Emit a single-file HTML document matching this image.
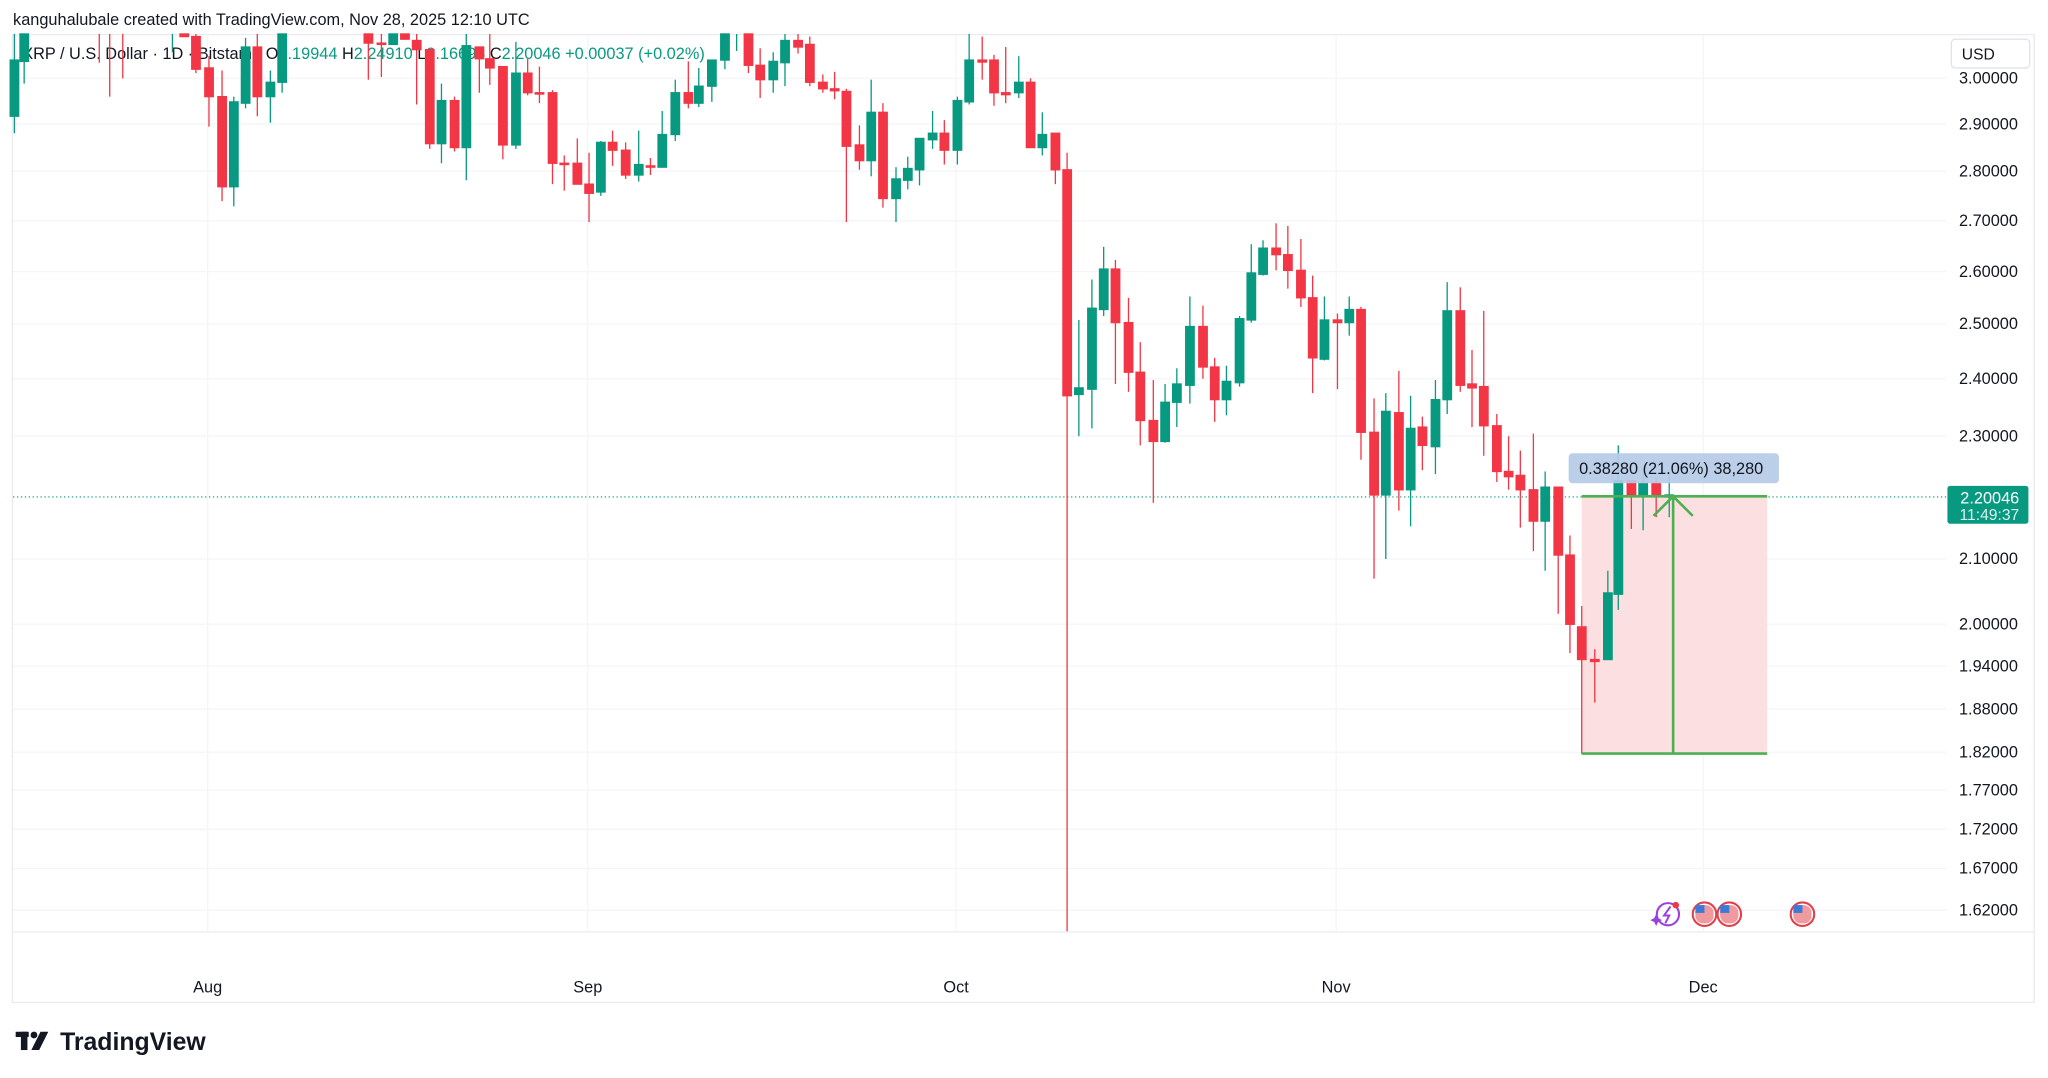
<!DOCTYPE html>
<html><head><meta charset="utf-8"><style>
html,body{margin:0;padding:0;background:#fff;}
svg{display:block;font-family:"Liberation Sans",sans-serif;}
.r{fill:#f23645;stroke:#f23645;}
.g{fill:#089981;stroke:#089981;}
.ax{font-size:12.5px;fill:#131722;}
</style></head><body>
<svg width="2048" height="1078" viewBox="0 0 1568 825.4" preserveAspectRatio="none" xmlns="http://www.w3.org/2000/svg">
<rect width="1568" height="825.4" fill="#fff"/>
<text x="10" y="19" font-size="12.5" fill="#131722">kanguhalubale created with TradingView.com, Nov 28, 2025 12:10 UTC</text>
<!-- pane borders -->
<g stroke="#e9ebef" stroke-width="1" fill="none">
<line x1="9" y1="26.5" x2="1558" y2="26.5"/>
<line x1="9.5" y1="26" x2="9.5" y2="768"/>
<line x1="1557.5" y1="26" x2="1557.5" y2="768"/>
<line x1="9" y1="713.5" x2="1558" y2="713.5"/>
<line x1="9" y1="767.5" x2="1558" y2="767.5"/>
</g>
<!-- grid -->
<g stroke="#f4f5f7" stroke-width="1">
<line x1="10" y1="60" x2="1490" y2="60"/><line x1="10" y1="95" x2="1490" y2="95"/><line x1="10" y1="131" x2="1490" y2="131"/><line x1="10" y1="169" x2="1490" y2="169"/><line x1="10" y1="208" x2="1490" y2="208"/><line x1="10" y1="248" x2="1490" y2="248"/><line x1="10" y1="290" x2="1490" y2="290"/><line x1="10" y1="334" x2="1490" y2="334"/><line x1="10" y1="428" x2="1490" y2="428"/><line x1="10" y1="478" x2="1490" y2="478"/><line x1="10" y1="510" x2="1490" y2="510"/><line x1="10" y1="543" x2="1490" y2="543"/><line x1="10" y1="576" x2="1490" y2="576"/><line x1="10" y1="605" x2="1490" y2="605"/><line x1="10" y1="635" x2="1490" y2="635"/><line x1="10" y1="665" x2="1490" y2="665"/><line x1="10" y1="697" x2="1490" y2="697"/>
<line x1="159" y1="27" x2="159" y2="713"/><line x1="450" y1="27" x2="450" y2="713"/><line x1="732" y1="27" x2="732" y2="713"/><line x1="1023" y1="27" x2="1023" y2="713"/><line x1="1304" y1="27" x2="1304" y2="713"/>
</g>
<!-- legend -->
<text x="17" y="45" font-size="12.5" fill="#131722">XRP / U.S. Dollar · 1D · Bitstamp  O<tspan fill="#089981">2.19944</tspan>  H<tspan fill="#089981">2.24910</tspan>  L<tspan fill="#089981">2.16693</tspan>  C<tspan fill="#089981">2.20046  +0.00037 (+0.02%)</tspan></text>
<!-- measure box -->
<rect x="1211" y="380" width="142" height="197" fill="#fcdfe0"/>
<!-- current price line -->
<line x1="10" y1="380.5" x2="1490" y2="380.5" stroke="#089981" stroke-width="0.8" stroke-dasharray="1,2"/>
<!-- candles -->
<g stroke-width="1">
<g class="g"><line x1="11" y1="26" x2="11" y2="102"/><rect x="7.8" y="46" width="6.5" height="43"/></g>
<g class="g"><line x1="18.5" y1="26" x2="18.5" y2="64"/><rect x="15.3" y="26" width="6.5" height="21"/></g>
<g class="r"><line x1="76" y1="26" x2="76" y2="48"/><line x1="84" y1="26" x2="84" y2="74"/><line x1="94" y1="26" x2="94" y2="60"/></g>
<g class="g"><line x1="132" y1="26" x2="132" y2="40"/><line x1="564" y1="26" x2="564" y2="39"/></g>
<g class="r"><rect x="137.8" y="26" width="6.5" height="2"/></g>
<g class="r"><line x1="150" y1="26" x2="150" y2="56"/><rect x="146.8" y="28" width="6.5" height="25"/></g>
<g class="r"><line x1="160" y1="43" x2="160" y2="97"/><rect x="156.8" y="52" width="6.5" height="22"/></g>
<g class="r"><line x1="170" y1="54" x2="170" y2="154"/><rect x="166.8" y="74" width="6.5" height="69"/></g>
<g class="g"><line x1="179" y1="74" x2="179" y2="158"/><rect x="175.8" y="78" width="6.5" height="65"/></g>
<g class="g"><line x1="188" y1="29" x2="188" y2="83"/><rect x="184.8" y="36" width="6.5" height="43"/></g>
<g class="r"><line x1="197" y1="26" x2="197" y2="89"/><rect x="193.8" y="36" width="6.5" height="38"/></g>
<g class="g"><line x1="207" y1="54" x2="207" y2="94"/><rect x="203.8" y="63" width="6.5" height="11"/></g>
<g class="g"><line x1="216" y1="26" x2="216" y2="71"/><rect x="212.8" y="26" width="6.5" height="37"/></g>
<g class="r"><line x1="282" y1="26" x2="282" y2="61"/><rect x="278.8" y="26" width="6.5" height="7"/></g>
<g class="r"><line x1="292" y1="26" x2="292" y2="59"/><rect x="288.8" y="33" width="6.5" height="1"/></g>
<g class="g"><rect x="297.8" y="26" width="6.5" height="8"/></g>
<g class="r"><rect x="306.8" y="26" width="6.5" height="4"/></g>
<g class="r"><line x1="319" y1="26" x2="319" y2="80"/><rect x="315.8" y="31" width="6.5" height="7"/></g>
<g class="r"><line x1="329" y1="38" x2="329" y2="114"/><rect x="325.8" y="38" width="6.5" height="72"/></g>
<g class="g"><line x1="338" y1="64" x2="338" y2="125"/><rect x="334.8" y="77" width="6.5" height="33"/></g>
<g class="r"><line x1="348" y1="74" x2="348" y2="116"/><rect x="344.8" y="77" width="6.5" height="36"/></g>
<g class="g"><line x1="357" y1="26" x2="357" y2="138"/><rect x="353.8" y="35" width="6.5" height="78"/></g>
<g class="r"><line x1="367" y1="36" x2="367" y2="71"/><rect x="363.8" y="36" width="6.5" height="9"/></g>
<g class="r"><line x1="375" y1="26" x2="375" y2="65"/><rect x="371.8" y="45" width="6.5" height="7"/></g>
<g class="r"><line x1="385" y1="51" x2="385" y2="122"/><rect x="381.8" y="51" width="6.5" height="60"/></g>
<g class="g"><line x1="395" y1="32" x2="395" y2="114"/><rect x="391.8" y="56" width="6.5" height="55"/></g>
<g class="r"><line x1="404" y1="45" x2="404" y2="73"/><rect x="400.8" y="56" width="6.5" height="15"/></g>
<g class="r"><line x1="413" y1="51" x2="413" y2="79"/><rect x="409.8" y="71" width="6.5" height="1"/></g>
<g class="r"><line x1="423" y1="69" x2="423" y2="141"/><rect x="419.8" y="71" width="6.5" height="54"/></g>
<g class="r"><line x1="432" y1="119" x2="432" y2="146"/><rect x="428.8" y="125" width="6.5" height="1"/></g>
<g class="r"><line x1="442" y1="106" x2="442" y2="141"/><rect x="438.8" y="125" width="6.5" height="16"/></g>
<g class="r"><line x1="451" y1="117" x2="451" y2="170"/><rect x="447.8" y="141" width="6.5" height="7"/></g>
<g class="g"><line x1="460" y1="108" x2="460" y2="150"/><rect x="456.8" y="109" width="6.5" height="38"/></g>
<g class="r"><line x1="469" y1="100" x2="469" y2="127"/><rect x="465.8" y="109" width="6.5" height="6"/></g>
<g class="r"><line x1="479" y1="109" x2="479" y2="137"/><rect x="475.8" y="115" width="6.5" height="19"/></g>
<g class="g"><line x1="489" y1="100" x2="489" y2="139"/><rect x="485.8" y="126" width="6.5" height="8"/></g>
<g class="r"><line x1="498" y1="121" x2="498" y2="134"/><rect x="494.8" y="127" width="6.5" height="1"/></g>
<g class="g"><line x1="507" y1="85" x2="507" y2="128"/><rect x="503.8" y="103" width="6.5" height="25"/></g>
<g class="g"><line x1="517" y1="61" x2="517" y2="108"/><rect x="513.8" y="71" width="6.5" height="32"/></g>
<g class="r"><line x1="527" y1="47" x2="527" y2="83"/><rect x="523.8" y="71" width="6.5" height="8"/></g>
<g class="g"><line x1="535" y1="52" x2="535" y2="82"/><rect x="531.8" y="66" width="6.5" height="13"/></g>
<g class="g"><line x1="545" y1="46" x2="545" y2="78"/><rect x="541.8" y="46" width="6.5" height="20"/></g>
<g class="g"><line x1="555" y1="26" x2="555" y2="53"/><rect x="551.8" y="26" width="6.5" height="20"/></g>
<g class="r"><line x1="573" y1="26" x2="573" y2="56"/><rect x="569.8" y="26" width="6.5" height="24"/></g>
<g class="r"><line x1="582" y1="37" x2="582" y2="75"/><rect x="578.8" y="50" width="6.5" height="11"/></g>
<g class="g"><line x1="592" y1="40" x2="592" y2="71"/><rect x="588.8" y="47" width="6.5" height="14"/></g>
<g class="g"><line x1="601" y1="26" x2="601" y2="66"/><rect x="597.8" y="31" width="6.5" height="17"/></g>
<g class="r"><line x1="611" y1="26" x2="611" y2="41"/><rect x="607.8" y="31" width="6.5" height="5"/></g>
<g class="r"><line x1="620" y1="28" x2="620" y2="66"/><rect x="616.8" y="34" width="6.5" height="29"/></g>
<g class="r"><line x1="630" y1="57" x2="630" y2="71"/><rect x="626.8" y="63" width="6.5" height="5"/></g>
<g class="r"><line x1="639" y1="55" x2="639" y2="76"/><rect x="635.8" y="68" width="6.5" height="1.5"/></g>
<g class="r"><line x1="648" y1="68" x2="648" y2="170"/><rect x="644.8" y="70" width="6.5" height="42"/></g>
<g class="r"><line x1="658" y1="96" x2="658" y2="130"/><rect x="654.8" y="111" width="6.5" height="12"/></g>
<g class="g"><line x1="667" y1="61" x2="667" y2="135"/><rect x="663.8" y="86" width="6.5" height="37"/></g>
<g class="r"><line x1="676" y1="79" x2="676" y2="159"/><rect x="672.8" y="86" width="6.5" height="66"/></g>
<g class="g"><line x1="686" y1="128" x2="686" y2="170"/><rect x="682.8" y="137" width="6.5" height="15"/></g>
<g class="g"><line x1="695" y1="120" x2="695" y2="145"/><rect x="691.8" y="129" width="6.5" height="9"/></g>
<g class="g"><line x1="704" y1="106" x2="704" y2="142"/><rect x="700.8" y="106" width="6.5" height="24"/></g>
<g class="g"><line x1="714" y1="85" x2="714" y2="114"/><rect x="710.8" y="102" width="6.5" height="5"/></g>
<g class="r"><line x1="723" y1="92" x2="723" y2="126"/><rect x="719.8" y="102" width="6.5" height="13"/></g>
<g class="g"><line x1="733" y1="74" x2="733" y2="126"/><rect x="729.8" y="77" width="6.5" height="38"/></g>
<g class="g"><line x1="742" y1="26" x2="742" y2="80"/><rect x="738.8" y="46" width="6.5" height="32"/></g>
<g class="r"><line x1="752" y1="28" x2="752" y2="61"/><rect x="748.8" y="46" width="6.5" height="1.5"/></g>
<g class="r"><line x1="761" y1="42" x2="761" y2="81"/><rect x="757.8" y="46" width="6.5" height="25"/></g>
<g class="r"><line x1="770" y1="36" x2="770" y2="79"/><rect x="766.8" y="71" width="6.5" height="1.5"/></g>
<g class="g"><line x1="780" y1="43" x2="780" y2="75"/><rect x="776.8" y="63" width="6.5" height="8"/></g>
<g class="r"><line x1="789" y1="60" x2="789" y2="113"/><rect x="785.8" y="63" width="6.5" height="50"/></g>
<g class="g"><line x1="798" y1="86" x2="798" y2="119"/><rect x="794.8" y="103" width="6.5" height="10"/></g>
<g class="r"><line x1="808" y1="102" x2="808" y2="141"/><rect x="804.8" y="102" width="6.5" height="28"/></g>
<g class="r"><line x1="817" y1="117" x2="817" y2="713"/><rect x="813.8" y="130" width="6.5" height="173"/></g>
<g class="g"><line x1="826" y1="245" x2="826" y2="334"/><rect x="822.8" y="297" width="6.5" height="5"/></g>
<g class="g"><line x1="836" y1="214" x2="836" y2="328"/><rect x="832.8" y="236" width="6.5" height="62"/></g>
<g class="g"><line x1="845" y1="189" x2="845" y2="242"/><rect x="841.8" y="206" width="6.5" height="31"/></g>
<g class="r"><line x1="854" y1="199" x2="854" y2="294"/><rect x="850.8" y="206" width="6.5" height="41"/></g>
<g class="r"><line x1="864" y1="228" x2="864" y2="300"/><rect x="860.8" y="247" width="6.5" height="38"/></g>
<g class="r"><line x1="873" y1="262" x2="873" y2="341"/><rect x="869.8" y="285" width="6.5" height="37"/></g>
<g class="r"><line x1="883" y1="291" x2="883" y2="385"/><rect x="879.8" y="322" width="6.5" height="16"/></g>
<g class="g"><line x1="892" y1="294" x2="892" y2="339"/><rect x="888.8" y="308" width="6.5" height="30"/></g>
<g class="g"><line x1="901" y1="282" x2="901" y2="327"/><rect x="897.8" y="294" width="6.5" height="14"/></g>
<g class="g"><line x1="911" y1="227" x2="911" y2="309"/><rect x="907.8" y="250" width="6.5" height="45"/></g>
<g class="r"><line x1="921" y1="234" x2="921" y2="290"/><rect x="917.8" y="250" width="6.5" height="31"/></g>
<g class="r"><line x1="930" y1="274" x2="930" y2="323"/><rect x="926.8" y="281" width="6.5" height="25"/></g>
<g class="g"><line x1="939" y1="280" x2="939" y2="318"/><rect x="935.8" y="292" width="6.5" height="14"/></g>
<g class="g"><line x1="949" y1="242" x2="949" y2="296"/><rect x="945.8" y="244" width="6.5" height="49"/></g>
<g class="g"><line x1="958" y1="187" x2="958" y2="247"/><rect x="954.8" y="209" width="6.5" height="36"/></g>
<g class="g"><line x1="967" y1="184" x2="967" y2="211"/><rect x="963.8" y="190" width="6.5" height="20"/></g>
<g class="r"><line x1="977" y1="171" x2="977" y2="207"/><rect x="973.8" y="190" width="6.5" height="5"/></g>
<g class="r"><line x1="986" y1="173" x2="986" y2="221"/><rect x="982.8" y="195" width="6.5" height="12"/></g>
<g class="r"><line x1="996" y1="183" x2="996" y2="235"/><rect x="992.8" y="207" width="6.5" height="21"/></g>
<g class="r"><line x1="1005" y1="211" x2="1005" y2="301"/><rect x="1001.8" y="228" width="6.5" height="46"/></g>
<g class="g"><line x1="1014" y1="227" x2="1014" y2="276"/><rect x="1010.8" y="245" width="6.5" height="30"/></g>
<g class="r"><line x1="1024" y1="240" x2="1024" y2="298"/><rect x="1020.8" y="245" width="6.5" height="2"/></g>
<g class="g"><line x1="1033" y1="227" x2="1033" y2="257"/><rect x="1029.8" y="237" width="6.5" height="10"/></g>
<g class="r"><line x1="1042" y1="235" x2="1042" y2="352"/><rect x="1038.8" y="237" width="6.5" height="94"/></g>
<g class="r"><line x1="1052" y1="305" x2="1052" y2="443"/><rect x="1048.8" y="331" width="6.5" height="48"/></g>
<g class="g"><line x1="1061" y1="301" x2="1061" y2="428"/><rect x="1057.8" y="315" width="6.5" height="64"/></g>
<g class="r"><line x1="1071" y1="284" x2="1071" y2="391"/><rect x="1067.8" y="316" width="6.5" height="59"/></g>
<g class="g"><line x1="1080" y1="303" x2="1080" y2="403"/><rect x="1076.8" y="328" width="6.5" height="47"/></g>
<g class="r"><line x1="1089" y1="319" x2="1089" y2="360"/><rect x="1085.8" y="327" width="6.5" height="14"/></g>
<g class="g"><line x1="1099" y1="291" x2="1099" y2="363"/><rect x="1095.8" y="306" width="6.5" height="36"/></g>
<g class="g"><line x1="1108" y1="216" x2="1108" y2="317"/><rect x="1104.8" y="238" width="6.5" height="68"/></g>
<g class="r"><line x1="1118" y1="220" x2="1118" y2="300"/><rect x="1114.8" y="238" width="6.5" height="57"/></g>
<g class="r"><line x1="1127" y1="268" x2="1127" y2="327"/><rect x="1123.8" y="294" width="6.5" height="3"/></g>
<g class="r"><line x1="1136" y1="238" x2="1136" y2="349"/><rect x="1132.8" y="296" width="6.5" height="30"/></g>
<g class="r"><line x1="1146" y1="317" x2="1146" y2="369"/><rect x="1142.8" y="326" width="6.5" height="35"/></g>
<g class="r"><line x1="1155" y1="334" x2="1155" y2="375"/><rect x="1151.8" y="361" width="6.5" height="4"/></g>
<g class="r"><line x1="1164" y1="345" x2="1164" y2="404"/><rect x="1160.8" y="364" width="6.5" height="11"/></g>
<g class="r"><line x1="1174" y1="332" x2="1174" y2="422"/><rect x="1170.8" y="375" width="6.5" height="24"/></g>
<g class="g"><line x1="1183" y1="361" x2="1183" y2="437"/><rect x="1179.8" y="373" width="6.5" height="26"/></g>
<g class="r"><line x1="1193" y1="373" x2="1193" y2="470"/><rect x="1189.8" y="373" width="6.5" height="52"/></g>
<g class="r"><line x1="1202" y1="410" x2="1202" y2="500"/><rect x="1198.8" y="425" width="6.5" height="53"/></g>
<g class="r"><line x1="1211" y1="464" x2="1211" y2="577"/><rect x="1207.8" y="480" width="6.5" height="25"/></g>
<g class="r"><line x1="1221" y1="497" x2="1221" y2="538"/><rect x="1217.8" y="505" width="6.5" height="1.5"/></g>
<g class="g"><line x1="1231" y1="437" x2="1231" y2="505"/><rect x="1227.8" y="454" width="6.5" height="51"/></g>
<g class="g"><line x1="1239" y1="341" x2="1239" y2="467"/><rect x="1235.8" y="368" width="6.5" height="87"/></g>
<g class="r"><line x1="1249" y1="368" x2="1249" y2="405"/><rect x="1245.8" y="368" width="6.5" height="12"/></g>
<g class="g"><line x1="1258" y1="361" x2="1258" y2="406"/><rect x="1254.8" y="370" width="6.5" height="10"/></g>
<g class="r"><line x1="1268" y1="365" x2="1268" y2="396"/><rect x="1264.8" y="370" width="6.5" height="10"/></g>
<g class="g"><line x1="1278" y1="361" x2="1278" y2="396"/><rect x="1274.8" y="379" width="6.5" height="1.5"/></g>
</g>
<!-- measure lines -->
<g stroke="#4caf50" stroke-width="2" fill="none">
<line x1="1211" y1="380" x2="1353" y2="380"/>
<line x1="1211" y1="577" x2="1353" y2="577"/>
<line x1="1281" y1="577" x2="1281" y2="381"/>
<polyline points="1266,395 1281,380 1296,395"/>
</g>
<rect x="1201" y="347" width="161" height="23" rx="3" fill="#b6cbe6" opacity="0.92"/>
<text x="1209" y="363" font-size="12.5" fill="#131722">0.38280 (21.06%) 38,280</text>
<!-- event icons -->
<g>
<circle cx="1277" cy="700" r="8.5" fill="none" stroke="#9c3fe0" stroke-width="1.6"/>
<path d="M1279,694 L1274,701 L1278,701 L1275,707" stroke="#9c3fe0" stroke-width="1.5" fill="none"/>
<circle cx="1283" cy="693" r="2.5" fill="#f23645"/>
<path d="M1268,700 l1.5,3 3,1.5 -3,1.5 -1.5,3 -1.5,-3 -3,-1.5 3,-1.5z" fill="#9c3fe0"/>
<circle cx="1305" cy="700" r="9" fill="#fff" stroke="#e0404a" stroke-width="1.6"/>
<rect x="1298" y="693" width="14" height="14" rx="6" fill="#f09aa0"/><rect x="1298" y="693" width="7" height="6" fill="#3b7bd8"/>
<circle cx="1324" cy="700" r="9" fill="#fff" stroke="#e0404a" stroke-width="1.6"/>
<rect x="1317" y="693" width="14" height="14" rx="6" fill="#f09aa0"/><rect x="1317" y="693" width="7" height="6" fill="#3b7bd8"/>
<circle cx="1380" cy="700" r="9" fill="#fff" stroke="#e0404a" stroke-width="1.6"/>
<rect x="1373" y="693" width="14" height="14" rx="6" fill="#f09aa0"/><rect x="1373" y="693" width="7" height="6" fill="#3b7bd8"/>
</g>
<!-- price axis -->
<rect x="1494" y="30" width="60" height="22" rx="3" fill="#fff" stroke="#e0e3eb"/>
<text x="1502" y="45.5" font-size="12" fill="#131722">USD</text>
<g class="ax" text-anchor="end">
<text x="1545" y="64">3.00000</text><text x="1545" y="99">2.90000</text><text x="1545" y="135">2.80000</text><text x="1545" y="173">2.70000</text><text x="1545" y="212">2.60000</text><text x="1545" y="252">2.50000</text><text x="1545" y="294">2.40000</text><text x="1545" y="338">2.30000</text><text x="1545" y="432">2.10000</text><text x="1545" y="482">2.00000</text><text x="1545" y="514">1.94000</text><text x="1545" y="547">1.88000</text><text x="1545" y="580">1.82000</text><text x="1545" y="609">1.77000</text><text x="1545" y="639">1.72000</text><text x="1545" y="669">1.67000</text><text x="1545" y="701">1.62000</text>
</g>
<rect x="1491" y="372" width="62" height="29" rx="2" fill="#089981"/>
<text x="1546" y="385.5" font-size="12.5" fill="#fff" text-anchor="end">2.20046</text>
<text x="1546" y="398" font-size="12" fill="#d8f1ec" text-anchor="end">11:49:37</text>
<!-- time axis -->
<g class="ax" text-anchor="middle">
<text x="159" y="760">Aug</text><text x="450" y="760">Sep</text><text x="732" y="760">Oct</text><text x="1023" y="760">Nov</text><text x="1304" y="760">Dec</text>
</g>
<!-- logo -->
<g fill="#131722">
<rect x="12" y="790" width="10" height="4"/><rect x="16" y="790" width="5" height="14"/>
<circle cx="26" cy="792.5" r="2.6"/>
<path d="M31,790 L37,790 L30,804 L24,804 Z"/>
</g>
<text x="46" y="804" font-size="19" font-weight="bold" fill="#131722">TradingView</text>
</svg>
</body></html>
